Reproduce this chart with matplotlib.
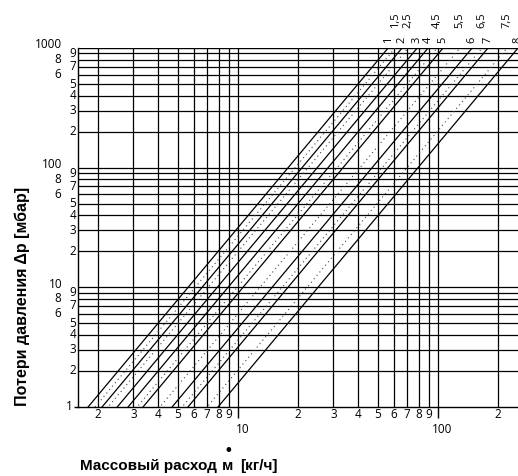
import numpy as np
import matplotlib
matplotlib.use("Agg")
import matplotlib.pyplot as plt
import matplotlib.transforms as mtransforms

# flow [kg/h] at which each characteristic reaches 1 mbar (dp ~ m^2)
solid_labels = ["1", "2", "3", "4", "5", "6", "7", "8"]
solid_m1 = [1.78, 2.09, 2.49, 2.82, 3.35, 4.68, 5.62, 7.94]
dotted_labels = ["1,5", "2,5", "4,5", "5,5", "6,5", "7,5"]
dotted_m1 = [1.93, 2.24, 3.13, 4.07, 5.25, 7.0]

x_min, x_max = 1.585, 251
y_min, y_max = 1, 1000
x_decades = [1, 10, 100]
y_decades = [1, 10, 100]
x_minor_labels = ["2", "3", "4", "5", "6", "7", "8", "9"]
y_decade_labels = ["1", "10", "100", "1000"]

tick_font = "Open Sans"
label_font = "Liberation Sans"

fig = plt.figure(figsize=(5.18, 4.76), dpi=100)
ax = fig.add_axes([78 / 518, 1 - 407 / 476, 440 / 518, 359 / 476])
ax.set_xscale("log")
ax.set_yscale("log")
ax.set_xlim(x_min, x_max)
ax.set_ylim(y_min, y_max)

# grid
for d in x_decades:
    for k in range(1, 10):
        v = k * d
        if x_min < v < x_max:
            ax.axvline(v, color="black", lw=0.9, zorder=1)
for d in y_decades:
    for k in range(1, 10):
        v = k * d
        if y_min < v < y_max:
            ax.axhline(v, color="black", lw=0.9, zorder=1)

# characteristic lines
m = np.logspace(np.log10(x_min), np.log10(x_max), 200)
for m1 in solid_m1:
    ax.plot(m, (m / m1) ** 2, color="black", lw=0.9, zorder=3)
for m1 in dotted_m1:
    ax.plot(m, (m / m1) ** 2, color="#444444", lw=0.8, ls=(0, (1, 3)), zorder=2)

# line labels above the top edge
xtop = ax.get_xaxis_transform()
for lab, m1 in zip(solid_labels, solid_m1):
    ax.text(m1 * np.sqrt(y_max), 1.022, lab, transform=xtop, rotation=90,
            ha="center", va="center", fontsize=8, family=tick_font, clip_on=False)
for lab, m1 in zip(dotted_labels, dotted_m1):
    ax.text(m1 * np.sqrt(y_max), 1.078, lab, transform=xtop, rotation=90,
            ha="center", va="center", fontsize=8, family=tick_font, clip_on=False)

# axes styling
ax.set_xticks([10, 100])
ax.set_xticks([], minor=True)
ax.set_yticks([1])
ax.set_yticks([], minor=True)
ax.tick_params(axis="x", which="major", length=8, width=1, direction="out", labelbottom=False)
ax.tick_params(axis="y", which="major", length=3, width=1, direction="out", labelleft=False)
for s in ["top", "right"]:
    ax.spines[s].set_visible(False)
ax.spines["left"].set_linewidth(1)
ax.spines["bottom"].set_linewidth(1)
ax.axhline(y_max, color="black", lw=1, zorder=1)

# x tick labels
xlab_tr = ax.get_xaxis_transform()
for d in x_decades:
    for k, lab in zip(range(2, 10), x_minor_labels):
        v = k * d
        if x_min < v < x_max:
            ax.text(v, -0.022, lab, transform=xlab_tr, ha="center", va="center",
                    fontsize=8.5, family=tick_font)
for v in [10, 100]:
    ax.text(v * 1.05, -0.064, str(v), transform=xlab_tr, ha="center", va="center",
            fontsize=8.5, family=tick_font)

# y tick labels
ylab_tr = mtransforms.blended_transform_factory(ax.transAxes, ax.transData)
for d, lab in zip([1, 10, 100, 1000], y_decade_labels):
    if d == 1:
        ax.text(-0.012, d, lab, transform=ylab_tr, ha="right", va="center",
                fontsize=8.5, family=tick_font)
    else:
        ax.text(-0.036, d * 1.06, lab, transform=ylab_tr, ha="right", va="center",
                fontsize=8.5, family=tick_font)
for d in y_decades:
    for k in range(2, 10):
        v = k * d
        if k in (6, 8):
            xpos = -0.038
        else:
            xpos = -0.004
        ax.text(xpos, v, str(k), transform=ylab_tr, ha="right", va="center",
                fontsize=8.5, family=tick_font)

# axis titles
fig.text(22 / 518, 1 - 296 / 476, "Потери давления Δp [мбар]", rotation=90,
         ha="center", va="center", fontsize=11.5, weight="bold", family=label_font)
fig.text(80 / 518, 1 - 466 / 476, "Массовый расход",
         ha="left", va="center", fontsize=11, weight="bold", family=label_font)
fig.text(228 / 518, 1 - 466 / 476, "м",
         ha="center", va="center", fontsize=11, weight="bold", family=label_font)
fig.text(240 / 518, 1 - 466 / 476, "[кг/ч]",
         ha="left", va="center", fontsize=11, weight="bold", family=label_font)
fig.text(228 / 518, 1 - 450 / 476, "•", ha="center", va="center",
         fontsize=12, weight="bold", family=label_font)

fig.savefig("out.png", dpi=100)
